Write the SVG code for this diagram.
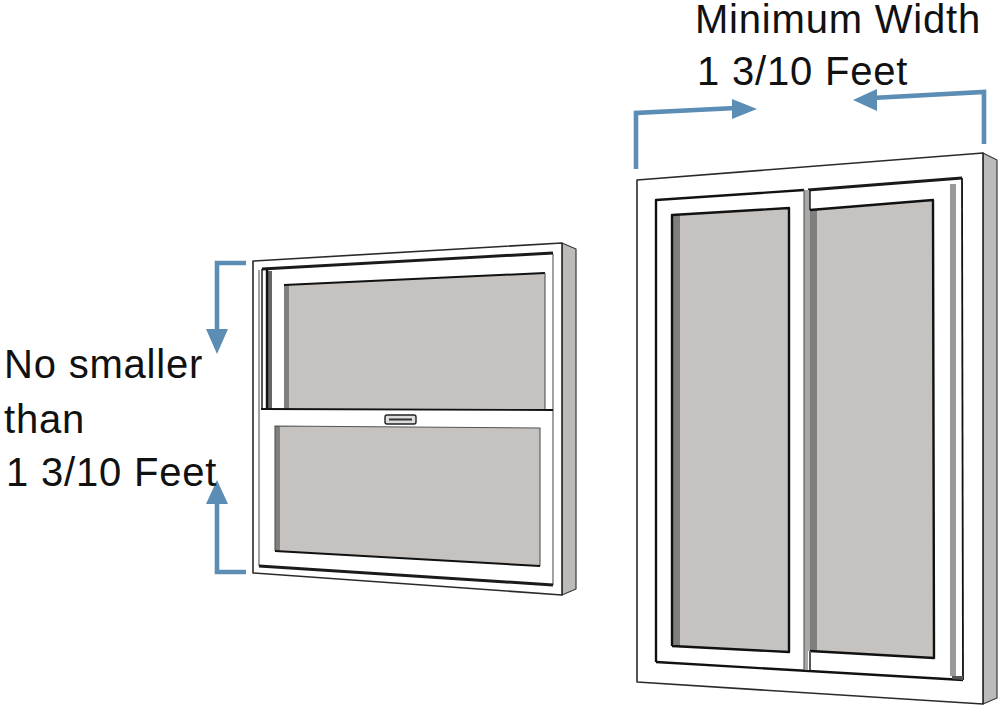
<svg xmlns="http://www.w3.org/2000/svg" width="1000" height="711" viewBox="0 0 1000 711">
<style>
.frame{fill:#fff;stroke:#2a2a2a;stroke-width:1.6;stroke-linejoin:round}
.side{fill:#bdbbb9;stroke:#3a3a3a;stroke-width:1.2;stroke-linejoin:round}
.glass{fill:#c5c2bf}
.shade{fill:#7f7f7d}
.ink{fill:none;stroke:#111;stroke-width:2.4;stroke-linejoin:round}
.thick{fill:none;stroke:#1a1a1a;stroke-width:3}
.thin{fill:none;stroke:#555;stroke-width:1.1}
.arrow{fill:none;stroke:#5b8db5;stroke-width:4.6;stroke-linejoin:miter}
.head{fill:#5b8db5}
text{font-family:"Liberation Sans",Arial,sans-serif;font-size:40px;letter-spacing:.8px;fill:#111}
</style>
<rect width="1000" height="711" fill="#fff"/>
<g id="window-left">
<polygon class="side" points="562,243 576,249 576,589 562,595"/>
<polygon class="frame" points="253,261 562,243 562,595 253,573"/>
<line class="thin" x1="259" y1="270" x2="259" y2="566"/>
<line class="thin" x1="553" y1="254" x2="553" y2="585"/>
<polyline class="thick" points="262,269 553,253"/>
<rect x="268" y="271" width="4" height="138" fill="#666"/>
<line class="ink" x1="262" y1="269" x2="262" y2="409" style="stroke-width:1.4"/>
<line class="ink" x1="267" y1="269" x2="267" y2="409"/>
<polyline class="thick" points="259,566 553,585"/>
<polygon class="glass" points="284,285 545,273 545,409 284,409"/>
<rect class="shade" x="284" y="285" width="5" height="124"/>
<polyline class="ink" points="284,285 545,273" style="stroke-width:2"/>
<line class="thin" x1="545" y1="273" x2="545" y2="409"/>
<line class="ink" x1="261" y1="409" x2="553" y2="410" style="stroke-width:1.8"/>
<polygon class="glass" points="275,426 540,428 540,566 275,551"/>
<polygon class="shade" points="275,426 280,426 280,552 275,551"/>
<polyline class="thin" points="275,551 275,426 540,428 540,566"/>
<polyline class="ink" points="275,551 540,566" style="stroke-width:2"/>
<g id="window-left-latch">
<rect x="385" y="415" width="31" height="9" rx="2" fill="#ddd" stroke="#222" stroke-width="1.400"/>
<line x1="389" y1="419.500" x2="412" y2="419.500" stroke="#333" stroke-width="2"/>
</g>
</g>
<g id="window-right">
<polygon class="side" points="983,153 997,160 997,698 983,704"/>
<polygon class="frame" points="637,180 983,153 983,704 637,682"/>
<polyline class="ink" points="656,662 656,200 804,190"/>
<polyline class="thick" points="808,190 962,178"/>
<polyline class="ink" points="656,662 963,680"/>
<line class="ink" x1="962" y1="178" x2="963" y2="680" style="stroke-width:1.800"/>
<polygon points="950,184 956,184 956,676 950,676" fill="#9a9a98"/>
<polygon points="952,676 963,676 963,680 952,679" fill="#555"/>
<polygon points="804,190 810,190 810,670 804,670" fill="#a9a8a6"/>
<line class="thin" x1="804" y1="190" x2="804" y2="670"/>
<polygon class="glass" points="672,215 789,208 789,652 672,646"/>
<polygon class="shade" points="672,215 680,214 680,646 672,646"/>
<polyline class="ink" points="672,646 672,215 789,208 789,652 672,646"/>
<polygon class="glass" points="810,210 933,200 934,658 810,651"/>
<polygon class="shade" points="810,210 817,209 817,651 810,651"/>
<polyline class="ink" points="810,210 933,200 934,658 810,651"/>
<rect x="808" y="651" width="3" height="19" fill="#fff"/>
<line class="ink" x1="810" y1="190" x2="810" y2="210" style="stroke-width:1.4"/>
<line class="ink" x1="810" y1="651" x2="810" y2="671" style="stroke-width:1.4"/>
</g>
<g id="connectors">
<polyline class="arrow" points="636,169 636,113 736,108"/>
<polygon class="head" points="732,99 757,109 732,119"/>
<polyline class="arrow" points="984,144 984,92 872,98"/>
<polygon class="head" points="877,89 853,100 877,111"/>
<polyline class="arrow" points="246,263 217,263 217,332"/>
<polygon class="head" points="206,329 217,354 228,329"/>
<polyline class="arrow" points="246,572 217,572 217,502"/>
<polygon class="head" points="206,504 217,480 228,504"/>
</g>
<g id="label-width">
<text x="695" y="33">Minimum Width</text>
<text x="697" y="85">1 3/10 Feet</text>
</g>
<g id="label-height">
<text x="4" y="378">No smaller</text>
<text x="4" y="433">than</text>
<text x="6" y="486">1 3/10 Feet</text>
</g>
</svg>
